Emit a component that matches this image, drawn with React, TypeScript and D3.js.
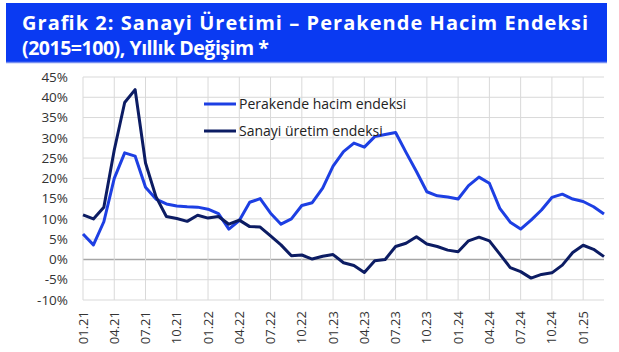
import React from "react"
import * as d3 from "d3"

// monthly, 01.21 .. 03.25
const months = d3.range(51).map(i => {
  const m = (i % 12) + 1
  const y = 21 + Math.floor(i / 12)
  return `${String(m).padStart(2, "0")}.${y}`
})

const perakende = [
  6.3, 3.6, 9.3, 20.0, 26.3, 25.5, 17.8, 14.9, 13.7, 13.2, 13.0, 12.9,
  12.4, 11.3, 7.5, 9.6, 14.1, 15.0, 11.4, 8.7, 10.0, 13.3, 14.0, 17.6,
  23.0, 26.6, 28.7, 27.7, 30.3, 30.8, 31.3, 26.4, 21.7, 16.7, 15.7, 15.4,
  14.9, 18.2, 20.3, 18.8, 12.6, 9.2, 7.5, 9.7, 12.2, 15.3, 16.1, 14.9,
  14.3, 13.0, 11.2,
]

const sanayi = [
  11.0, 10.0, 12.9, 27.0, 38.7, 41.9, 23.8, 15.5, 10.6, 10.1, 9.4, 10.9,
  10.2, 10.6, 8.7, 9.7, 8.1, 8.0, 5.8, 3.6, 0.9, 1.1, 0.1, 0.8,
  1.2, -0.8, -1.5, -3.2, -0.3, 0.0, 3.2, 4.0, 5.6, 3.8, 3.2, 2.3,
  1.9, 4.6, 5.5, 4.6, 1.3, -2.0, -3.0, -4.6, -3.7, -3.3, -1.4, 1.7,
  3.5, 2.5, 0.7,
]

const yTicks = [45, 40, 35, 30, 25, 20, 15, 10, 5, 0, -5, -10]
const xTickLabels = [
  "01.21", "04.21", "07.21", "10.21", "01.22", "04.22", "07.22", "10.22",
  "01.23", "04.23", "07.23", "10.23", "01.24", "04.24", "07.24", "10.24", "01.25",
]

const series = [
  { name: "Perakende hacim endeksi", values: perakende, color: "#1d3fe3" },
  { name: "Sanayi üretim endeksi", values: sanayi, color: "#0c1c63" },
]

const W = 619
const H = 352
const left = 83
const right = 604
const top = 77
const bottom = 300

export default function App() {
  const x = d3.scaleLinear().domain([0, months.length - 1]).range([left, right])
  const y = d3.scaleLinear().domain([-10, 45]).range([bottom, top])
  const line = d3
    .line<number>()
    .x((_, i) => x(i))
    .y(d => y(d))

  const font = "'Open Sans', 'DejaVu Sans', sans-serif"

  return (
    <svg
      width={W}
      height={H}
      style={{ position: "absolute", left: 0, top: 0, background: "#fff" }}
    >
      {/* title banner */}
      <rect x={6} y={3} width={601} height={59} fill="#0a3af2" />
      <line x1={6} x2={607} y1={62.5} y2={62.5} stroke="#7890f0" strokeWidth={1.5} />
      <g fill="#fff" fontFamily="'Open Sans', sans-serif" fontWeight={700}>
        <text x={22} y={29.5} fontSize={20} textLength={566} lengthAdjust="spacing">
          Grafik 2: Sanayi Üretimi – Perakende Hacim Endeksi
        </text>
        <text x={22} y={54.5} fontSize={19.5} textLength={247} lengthAdjust="spacing">
          (2015=100), Yıllık Değişim *
        </text>
      </g>

      {/* grid */}
      {yTicks.map(t => (
        <line
          key={t}
          x1={left}
          x2={right}
          y1={y(t)}
          y2={y(t)}
          stroke={t === 0 ? "#a6a6a6" : "#d9d9d9"}
          strokeWidth={t === 0 ? 1.5 : 1}
        />
      ))}
      {xTickLabels.map(lab => (
        <line
          key={lab}
          x1={x(months.indexOf(lab))}
          x2={x(months.indexOf(lab))}
          y1={top}
          y2={bottom}
          stroke="#d9d9d9"
        />
      ))}

      {/* y labels */}
      <g fontFamily={font} fontSize={13.5} fill="#333" textAnchor="end">
        {yTicks.map(t => (
          <text key={t} x={68} y={y(t)} dy="0.35em">
            {`${t}%`}
          </text>
        ))}
      </g>

      {/* x labels */}
      <g fontFamily={font} fontSize={13} fill="#333" textAnchor="end">
        {xTickLabels.map(lab => {
          const px = x(months.indexOf(lab))
          return (
            <text
              key={lab}
              transform={`translate(${px},311) rotate(-90)`}
              dy="0.35em"
            >
              {lab}
            </text>
          )
        })}
      </g>

      {/* lines */}
      {series.map(s => (
        <path
          key={s.name}
          d={line(s.values) ?? ""}
          fill="none"
          stroke={s.color}
          strokeWidth={3}
          strokeLinejoin="round"
        />
      ))}

      {/* legend */}
      <g fontFamily={font} fontSize={14} fill="#222">
        {series.map((s, i) => (
          <g key={s.name} transform={`translate(204,${104 + i * 27})`}>
            <line x1={0} x2={32} y1={0} y2={0} stroke={s.color} strokeWidth={3} />
            <text x={35} y={0} dy="0.35em">
              {s.name}
            </text>
          </g>
        ))}
      </g>
    </svg>
  )
}
